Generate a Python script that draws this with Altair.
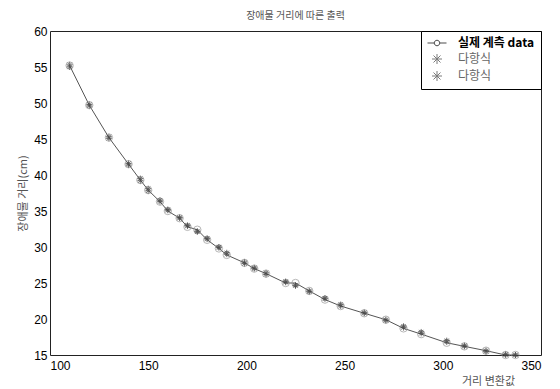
import altair as alt
import pandas as pd

chart_title = "장애물 거리에 따른 출력"
x_title = "거리 변환값"
y_title = "장애물 거리(cm)"
series_names = ["meas", "poly1", "poly2"]
legend_labels = ["실제 계측 data", "다항식", "다항식"]

x_ticks = [100, 150, 200, 250, 300, 350]
y_ticks = [15, 20, 25, 30, 35, 40, 45, 50, 55, 60]

x_vals = [110, 120, 130, 140, 146, 150, 156, 160, 166, 170, 175, 180, 186, 190, 199,
          204, 210, 220, 225, 232, 240, 248, 260, 271, 280, 289, 302, 311, 322, 332, 337]
y_meas = [55.2, 49.7, 45.2, 41.5, 39.3, 37.9, 36.3, 35.0, 34.0, 32.8, 32.4, 31.0, 29.8, 28.9, 27.8,
          27.0, 26.3, 25.0, 25.0, 23.9, 22.7, 21.8, 20.8, 19.9, 18.7, 17.9, 16.7, 16.2, 15.6, 15.0, 15.0]
y_poly1 = [55.0, 49.8, 45.3, 41.6, 39.5, 38.1, 36.5, 35.2, 34.0, 33.0, 32.1, 31.1, 30.0, 29.2, 27.9,
           27.1, 26.4, 25.2, 24.6, 23.8, 22.9, 22.0, 20.9, 19.9, 19.0, 18.2, 17.0, 16.3, 15.6, 15.1, 15.0]
y_poly2 = [55.3, 49.6, 45.1, 41.4, 39.2, 37.8, 36.3, 35.1, 34.1, 32.9, 32.2, 31.2, 29.9, 29.0, 27.7,
           27.0, 26.2, 25.1, 24.7, 23.9, 22.8, 21.8, 20.8, 19.8, 18.8, 18.0, 16.8, 16.2, 15.5, 15.0, 15.0]

rows = []
for name, ys in zip(series_names, [y_meas, y_poly1, y_poly2]):
    for xv, yv in zip(x_vals, ys):
        rows.append({"x": xv, "y": yv, "s": name})
df = pd.DataFrame(rows)

KFONT = "Noto Sans CJK KR"
NFONT = "Liberation Sans"

xenc = alt.X("x:Q", scale=alt.Scale(domain=[100, 350], nice=False, zero=False),
             axis=alt.Axis(values=x_ticks, title=x_title, grid=False, domain=False,
                           tickSize=0, labelPadding=5, labelFont=NFONT, labelFontSize=12,
                           labelColor="black", titleFont=KFONT, titleFontSize=11,
                           titleFontWeight="normal", titleColor="#555",
                           titleX=438, titleY=26, titleAlign="center", titleBaseline="middle"))
yenc = alt.Y("y:Q", scale=alt.Scale(domain=[15, 60], nice=False, zero=False),
             axis=alt.Axis(values=y_ticks, title=y_title, grid=False, domain=False,
                           tickSize=0, labelPadding=3, labelFont=NFONT, labelFontSize=12,
                           labelColor="black", titleFont=KFONT, titleFontSize=11,
                           titleFontWeight="normal", titleColor="#555", titlePadding=5))

base = alt.Chart(df)

line = base.transform_filter("datum.s == 'meas'").mark_line(
    color="#555", strokeWidth=1).encode(x=xenc, y=yenc)

circles = base.transform_filter("datum.s == 'meas'").mark_point(
    shape="circle", size=55, color="#999", strokeWidth=1, filled=False).encode(x=xenc, y=yenc)

asterisk = "M-1,0L1,0M0,-1L0,1M-0.7,-0.7L0.7,0.7M-0.7,0.7L0.7,-0.7"
line_circle = "M-1.9,0L-0.55,0M0.55,0L1.9,0M0.55,0A0.55,0.55 0 1 1 -0.55,0A0.55,0.55 0 1 1 0.55,0"

label_expr = ("datum.value == 'meas' ? '" + legend_labels[0] + "' : datum.value == 'poly1' ? '"
              + legend_labels[1] + "' : '" + legend_labels[2] + "'")

leg = alt.Legend(orient="top-right", offset=0, strokeColor="black", fillColor="white",
                 padding=6, rowPadding=3, labelFont=KFONT, labelFontSize=12,
                 labelExpr=label_expr, symbolSize=100, symbolStrokeWidth=1,
                 labelOffset=15, symbolOffset=4,
                 labelColor={"expr": "datum.value == 'meas' ? 'black' : '#666'"},
                 labelFontWeight={"expr": "datum.value == 'meas' ? 'bold' : 'normal'"})

stars = base.transform_filter("datum.s != 'meas'").mark_point(
    size=36, strokeWidth=1, filled=False).encode(
    x=xenc, y=yenc,
    shape=alt.Shape("s:N", title=None,
                    scale=alt.Scale(domain=series_names, range=[line_circle, asterisk, asterisk]),
                    legend=leg),
    color=alt.Color("s:N", title=None,
                    scale=alt.Scale(domain=series_names, range=["black", "#444", "#444"]),
                    legend=leg),
)

chart = alt.layer(line, circles, stars).properties(
    width=491, height=324,
    title=alt.Title(chart_title, font=KFONT, fontSize=10, fontWeight="normal",
                    color="#555", offset=4),
    autosize=alt.AutoSizeParams(type="none"),
    padding={"left": 42, "top": 23, "right": 10, "bottom": 40},
).configure_view(stroke="#222", strokeWidth=1)

chart.save("out.html", embed_options={"renderer": "svg", "actions": False})
